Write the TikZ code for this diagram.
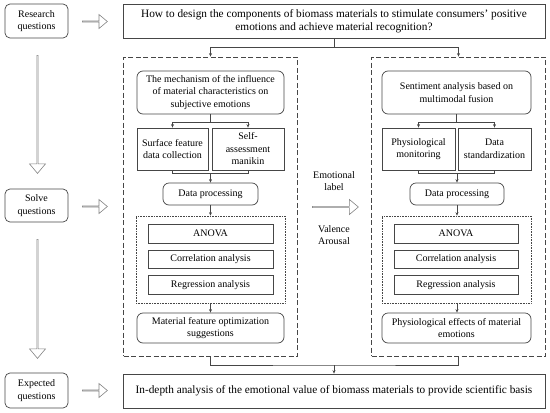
\documentclass[tikz,border=0pt]{standalone}
\usepackage{fontspec}
\setmainfont{Liberation Serif}
\usetikzlibrary{shapes.arrows,arrows.meta}
\definecolor{boxgray}{RGB}{70,70,70}
\definecolor{arrowgray}{RGB}{130,130,130}

\tikzset{
  every node/.style={font=\fontsize{10}{12.5}\selectfont, align=center, inner sep=1pt},
  stage/.style={draw=boxgray, line width=0.7pt, rounded corners=5pt, minimum width=63pt},
  mainbox/.style={draw=boxgray, line width=0.7pt, minimum width=422pt, minimum height=34pt, font=\fontsize{11.3}{13.2}\selectfont},
  roundbox/.style={draw=boxgray, line width=0.7pt, rounded corners=6pt},
  plainbox/.style={draw=boxgray, line width=0.7pt},
  group/.style={draw=boxgray, line width=0.7pt, dash pattern=on 5pt off 2.5pt, minimum width=174pt, minimum height=299pt},
  methods/.style={draw=boxgray, line width=0.6pt, densely dotted, minimum width=149pt, minimum height=87pt},
  hollow/.style={single arrow, draw=arrowgray, line width=0.6pt, inner sep=0pt, single arrow head extend=3.5pt, single arrow tip angle=80},
  link/.style={draw=boxgray, line width=0.6pt},
  tip/.style={link, -{Stealth[length=3.5pt,width=3pt]}}
}

\begin{document}
\begin{tikzpicture}[x=1pt,y=-1pt]
% Canvas
\useasboundingbox (0,0) rectangle (550,413);

% Stages on the left
\node[stage, minimum height=34pt] (rq) at (36.5,21) {Research\\questions};
\node[stage, minimum height=33pt] (sq) at (36.5,205.5) {Solve\\questions};
\node[stage, minimum height=35pt] (eq) at (36.5,390.5) {Expected\\questions};

% Hollow arrows
\node[hollow, minimum height=25pt, minimum width=14pt] (a1) at (94.5,21.5) {};
\node[hollow, minimum height=25pt, minimum width=14pt] (a2) at (94.5,206.5) {};
\node[hollow, minimum height=25pt, minimum width=14pt] (a3) at (94.5,390.5) {};
\node[hollow, shape border rotate=270, minimum height=118pt, minimum width=16pt] (v1) at (37.5,114) {};
\node[hollow, shape border rotate=270, minimum height=119pt, minimum width=16pt] (v2) at (37.5,298.5) {};

% Question and result
\node[mainbox] (top) at (334,21) {How to design the components of biomass materials to stimulate consumers' positive\\emotions and achieve material recognition?};
\node[mainbox] (bot) at (334,391) {In-depth analysis of the emotional value of biomass materials to provide scientific basis};

% Groups
\node[group] (lgrp) at (210.5,206.5) {};
\node[group] (rgrp) at (458.5,206.5) {};

% Left group
\node[roundbox, minimum width=147pt, minimum height=43pt] (mech) at (210.5,92.5) {The mechanism of the influence\\of material characteristics on\\subjective emotions};
\node[plainbox, minimum width=71pt, minimum height=42pt] (surf) at (172.5,149) {Surface feature\\data collection};
\node[plainbox, minimum width=72pt, minimum height=42pt] (sam) at (248,149) {Self-\\assessment\\manikin};
\node[roundbox, minimum width=95pt, minimum height=22pt] (ldp) at (210.5,194) {Data processing};
\node[methods] (lmet) at (210.5,259.5) {};
\node[plainbox, minimum width=125pt, minimum height=19pt] (lan) at (210.5,233.5) {ANOVA};
\node[plainbox, minimum width=125pt, minimum height=18pt] (lco) at (210.5,259.5) {Correlation analysis};
\node[plainbox, minimum width=125pt, minimum height=19pt] (lre) at (210.5,285) {Regression analysis};
\node[roundbox, minimum width=147pt, minimum height=30pt] (mat) at (210.5,328) {Material feature optimization\\suggestions};

% Right group
\node[roundbox, minimum width=149pt, minimum height=43pt] (sent) at (456.5,92.5) {Sentiment analysis based on\\multimodal fusion};
\node[plainbox, minimum width=73pt, minimum height=42pt] (phys) at (418.5,149) {Physiological\\monitoring};
\node[plainbox, minimum width=73pt, minimum height=42pt] (std) at (494.5,149) {Data\\standardization};
\node[roundbox, minimum width=94pt, minimum height=22pt] (rdp) at (457,194) {Data processing};
\node[methods] (rmet) at (456.5,259.5) {};
\node[plainbox, minimum width=124pt, minimum height=19pt] (ran) at (456,233.5) {ANOVA};
\node[plainbox, minimum width=124pt, minimum height=18pt] (rco) at (456,259.5) {Correlation analysis};
\node[plainbox, minimum width=124pt, minimum height=19pt] (rre) at (456,285) {Regression analysis};
\node[roundbox, minimum width=149pt, minimum height=30pt] (eff) at (456.5,328) {Physiological effects of material\\emotions};

% Between the groups
\node (emo) at (334,181) {Emotional\\label};
\node[hollow, minimum height=46pt, minimum width=15pt] (a4) at (335,207) {};
\node (va) at (334,235) {Valence\\Arousal};

% Connectors
\coordinate (t1) at (334,47);
\draw[link] (top.south) -- (t1);
\draw[tip] (t1) -| (lgrp.north -| mech.north);
\draw[tip] (t1) -| (rgrp.north);
\draw[link] (mech.south) -- ++(0,8) coordinate (m1);
\draw[tip] (m1) -| (surf.north);
\draw[tip] (m1) -| (sam.north);
\draw[link] (surf.south) -- ++(0,3) -| (sam.south);
\draw[tip] (ldp.north |- 0,173) -- (ldp.north);
\draw[tip] (ldp.south) -- (lmet.north);
\draw[tip] (lmet.south) -- (mat.north);
\draw[link] (sent.south) -- ++(0,8) coordinate (s1);
\draw[tip] (s1) -| (phys.north);
\draw[tip] (s1) -| (std.north);
\draw[link] (phys.south) -- ++(0,3) -| (std.south);
\draw[tip] (rdp.north |- 0,173) -- (rdp.north);
\draw[tip] (rdp.south) -- (rmet.north -| rdp.south);
\draw[tip] (rmet.south -| rdp.south) -- (eff.north -| rdp.south);
\coordinate (b1) at (334,365);
\draw[link] (lgrp.south -| mat.south) |- (b1) -| (rgrp.south);
\draw[tip] (b1) -- (bot.north);
\end{tikzpicture}
\end{document}
